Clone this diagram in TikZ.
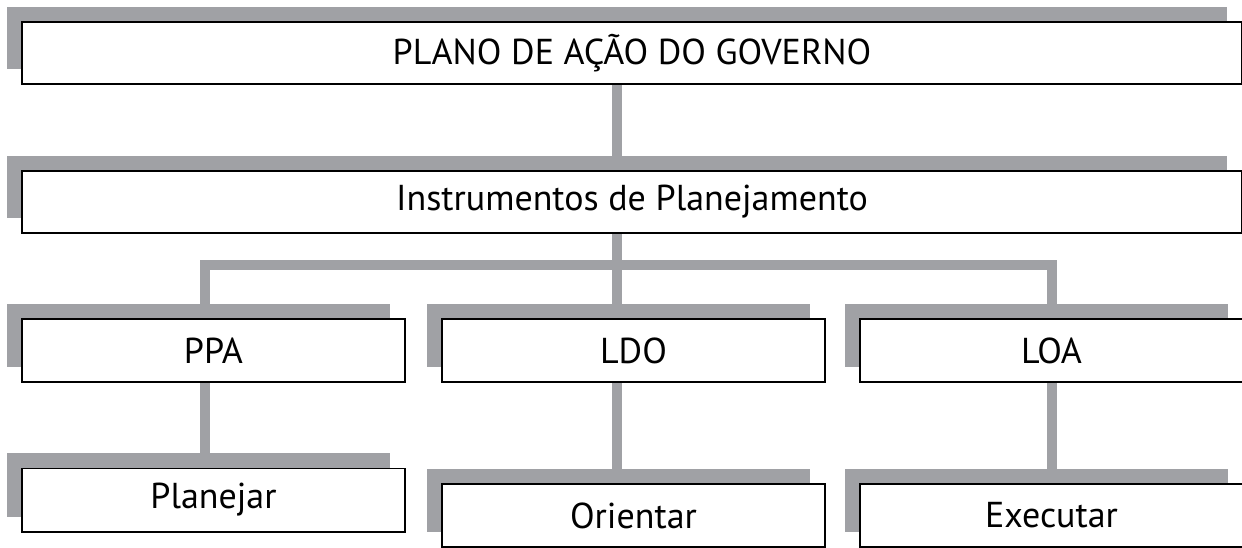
\documentclass[tikz,border=0pt]{standalone}
\usepackage{fontspec}
\setmainfont{PT Sans}
\usepackage{xcolor}
\usepackage{tikz}
\usetikzlibrary{calc,shadows,backgrounds}
\definecolor{cinza}{RGB}{160,161,165}

\begin{document}
\begin{tikzpicture}[x=1pt,y=-1pt,
  caixa/.style={draw=black,line width=1.8pt,fill=white,inner sep=0pt,
    font=\fontsize{36}{42}\selectfont,
    drop shadow={shadow xshift=-15pt,shadow yshift=15pt,fill=cinza,opacity=1}},
  larga/.style={caixa,minimum width=1220.2pt,minimum height=62.2pt},
  estreita/.style={caixa,minimum width=383.2pt,minimum height=63.2pt},
  liga/.style={cinza,line width=10pt}]
\useasboundingbox (0,0) rectangle (1242,547);
\node[larga] (plano) at (632,53) {PLANO DE AÇÃO DO GOVERNO};
\node[larga] (instr) at (632,202) {Instrumentos de Planejamento};
\foreach \nome/\x/\txt in {ppa/213.5/PPA,ldo/633.5/LDO,loa/1051.5/LOA} {
\node[estreita] (\nome) at (\x,350.5) {\txt};
}
\node[estreita] (planejar) at (213.5,500) {Planejar};
\node[estreita] (orientar) at (633.5,515.5) {Orientar};
\node[estreita] (executar) at (1051.5,515.5) {Executar};
\coordinate (barra) at ($(instr.center)+(-15,63)$);
\begin{pgfonlayer}{background}
\draw[liga] ([xshift=-15pt]plano.center) -- ([xshift=-15pt]instr.center);
\draw[liga] ([xshift=-15pt]instr.center) -- (barra);
\draw[liga] ([xshift=-8.5pt]ppa.center) |- (barra) -| ([xshift=0.5pt]loa.center);
\draw[liga] (barra) -- (barra |- ldo.center);
\draw[liga] ([xshift=-8.5pt]ppa.center) -- ([xshift=-8.5pt]planejar.center);
\draw[liga] (barra |- ldo.center) -- (barra |- orientar.center);
\draw[liga] ([xshift=0.5pt]loa.center) -- ([xshift=0.5pt]executar.center);
\end{pgfonlayer}
\end{tikzpicture}
\end{document}
